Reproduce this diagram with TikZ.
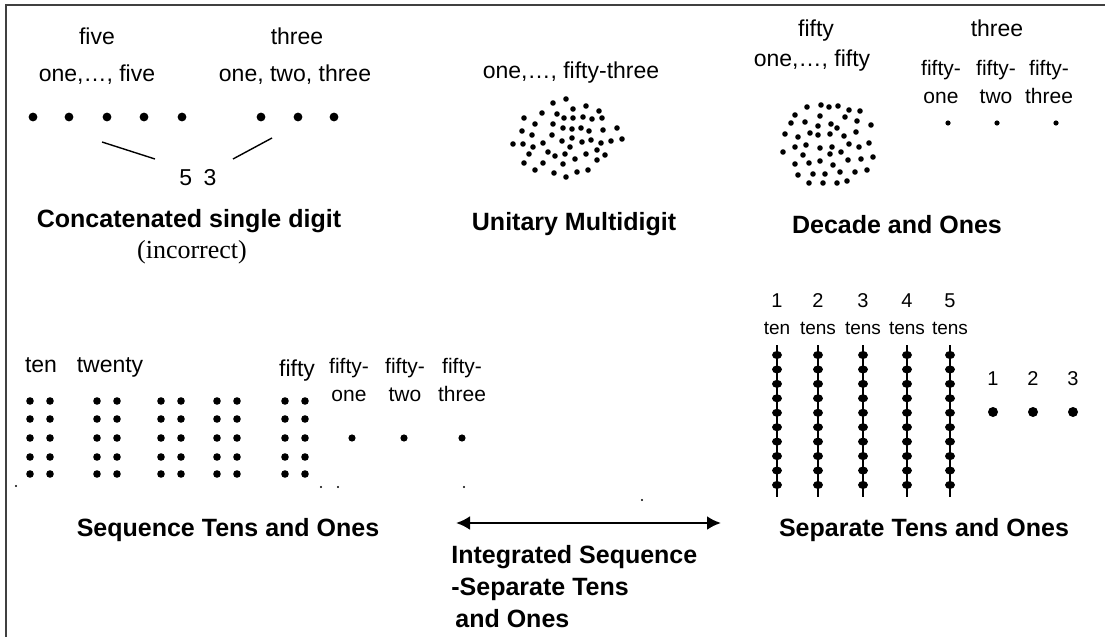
\documentclass[tikz,border=0pt]{standalone}
\usepackage{fontspec}
\setmainfont{Liberation Sans}
\newfontfamily\serifFont{Liberation Serif}
\usetikzlibrary{arrows.meta}
\newcommand\beadGap{14.44}

\begin{document}
\begin{tikzpicture}[x=0.5pt, y=-0.5pt,
    word/.style={inner sep=0pt, anchor=base, font=\fontsize{11.5}{13.5}\selectfont},
    tiny word/.style={inner sep=0pt, anchor=base, font=\fontsize{9.5}{12}\selectfont},
    pair word/.style={inner sep=0pt, anchor=north, align=center, font=\fontsize{10.5}{14}\selectfont},
    headline/.style={inner sep=0pt, anchor=base, font=\bfseries\fontsize{12.5}{16}\selectfont},
    frameline/.style={line width=1.2pt, black!75}]
    \def\tenRod[#1]{% one rod of ten beads, argument is the x position
        \draw [line width=1.4pt] (#1,345) -- (#1,497);
        \foreach \k in {0,...,9}
            \fill (#1,355+\k*\beadGap) ellipse (2.5pt and 2pt);
    }
    \useasboundingbox (0,0) rectangle (1105,637);
    % Frame, top and left only
    \draw [frameline] (6,637) -- (6,5) -- (1105,5);
    % Concatenated single digit
    \node [word] (fiveWord) at (97,45) {five};
    \node [word] (threeWord) at (297,45) {three};
    \node [word] (fiveCount) at (97,82) {one,…, five};
    \node [word] (threeCount) at (295,82) {one, two, three};
    \foreach \x in {33,69,107,144,182,261,298,334}
        \fill (\x,117) circle (2.2pt);
    \coordinate (fiveLineStart) at (102,142);
    \coordinate (fiveLineEnd) at (155,159);
    \coordinate (threeLineStart) at (233,159);
    \coordinate (threeLineEnd) at (272,138);
    \draw [line width=0.7pt] (fiveLineStart) -- (fiveLineEnd);
    \draw [line width=0.7pt] (threeLineStart) -- (threeLineEnd);
    \node [word] (digits) at (198,185) {5\enspace 3};
    \node [headline] (concatTitle) at (189,227) {Concatenated single digit};
    \node [inner sep=0pt, anchor=base, font=\serifFont\fontsize{13}{15}\selectfont] (incorrect) at (192,258) {(incorrect)};
    % Unitary multidigit
    \node [word] (unitaryCount) at (571,78) {one,…, fifty-three};
    \foreach \x/\y in {553/103, 566/99, 573/109, 586/106, 599/111, 542/113, 557/114, 564/118,
    573/118, 583/117, 592/119, 602/118, 524/118, 535/124, 553/124, 563/128, 572/129, 581/128,
    589/131, 603/130, 617/128, 522/131, 532/135, 552/135, 562/141, 572/138, 582/142, 591/140,
    601/143, 611/141, 622/139, 513/144, 523/144, 533/147, 543/143, 570/147, 529/154, 548/152,
    555/156, 565/154, 575/159, 586/154, 597/150, 605/155, 524/163, 543/163, 563/164, 597/160,
    535/170, 554/173, 566/177, 577/172, 588/170}
        \fill (\x,\y) circle (1.4pt);
    \node [headline] (unitaryTitle) at (574,230) {Unitary Multidigit};
    % Decade and ones
    \node [word] (fiftyWord) at (816,37) {fifty};
    \node [word] (fiftyCount) at (812,67) {one,…, fifty};
    \node [word] (threeOnes) at (997,37) {three};
    \foreach \x/\w [count=\i] in {941/one, 996/two, 1049/three}
        \node [pair word] (decadeOne\i) at (\x,60) {fifty-\\\w};
    \foreach \x in {948,997,1056}
        \fill (\x,123) circle (1.3pt);
    \foreach \x/\y in {807/107, 821/105, 829/107, 838/106, 849/110, 860/111, 795/115, 820/116,
    845/117, 857/121, 791/123, 805/122, 818/126, 831/124, 837/128, 871/125, 785/134, 798/137,
    810/133, 818/135, 830/134, 844/136, 856/132, 783/152, 795/147, 806/145, 820/148, 832/147,
    841/152, 849/144, 859/147, 869/143, 803/155, 830/154, 848/160, 861/159, 873/157, 795/164,
    809/163, 820/161, 833/165, 840/172, 855/172, 867/170, 798/175, 813/174, 825/174, 809/183,
    823/183, 837/183, 847/181}
        \fill (\x,\y) circle (1.4pt);
    \node [headline] (decadeTitle) at (897,233) {Decade and Ones};
    % Sequence tens and ones
    \node [word] (tenWord) at (41,372) {ten};
    \node [word] (twentyWord) at (110,372) {twenty};
    \node [word] (fiftyTens) at (297,376) {fifty};
    \foreach \gx in {30,97,161,217,285}
        \foreach \y in {401,419,438,457,474} {
            \fill (\gx,\y) circle (1.9pt);
            \fill (\gx+20,\y) circle (1.9pt);
        }
    \foreach \x/\w [count=\i] in {349/one, 405/two, 462/three}
        \node [pair word] (sequenceOne\i) at (\x,358) {fifty-\\\w};
    \foreach \x in {352,404,462}
        \fill (\x,438) circle (1.8pt);
    \foreach \x/\y in {16/486, 321/487, 338/487, 464/487, 642/500}
        \fill (\x,\y) circle (0.6pt);
    \node [headline] (sequenceTitle) at (228,536) {Sequence Tens and Ones};
    % Integrated sequence - separate
    \coordinate (arrowLeft) at (456,523);
    \coordinate (arrowRight) at (721,523);
    \draw [line width=1.3pt, {Latex[length=7pt,width=7pt]}-{Latex[length=7pt,width=7pt]}] (arrowLeft) -- (arrowRight);
    \node [headline, anchor=north west, align=left] (integratedTitle) at (451,545) {Integrated Sequence\\-Separate Tens\\\hspace{2pt}and Ones};
    % Separate tens and ones
    \foreach \cx/\n/\w [count=\i] in {777/1/ten, 818/2/tens, 863/3/tens, 907/4/tens, 950/5/tens} {
        \node [tiny word, font=\fontsize{10}{12}\selectfont] (rodNum\i) at (\cx,307) {\n};
        \node [tiny word] (rodName\i) at (\cx,334) {\w};
        \tenRod[\cx];
    }
    \foreach \x/\n [count=\i] in {993/1, 1033/2, 1073/3} {
        \node [tiny word, font=\fontsize{10}{12}\selectfont] (oneNum\i) at (\x,385) {\n};
        \fill (\x,412) circle (2.5pt);
    }
    \node [headline] (separateTitle) at (924,536) {Separate Tens and Ones};
\end{tikzpicture}
\end{document}
